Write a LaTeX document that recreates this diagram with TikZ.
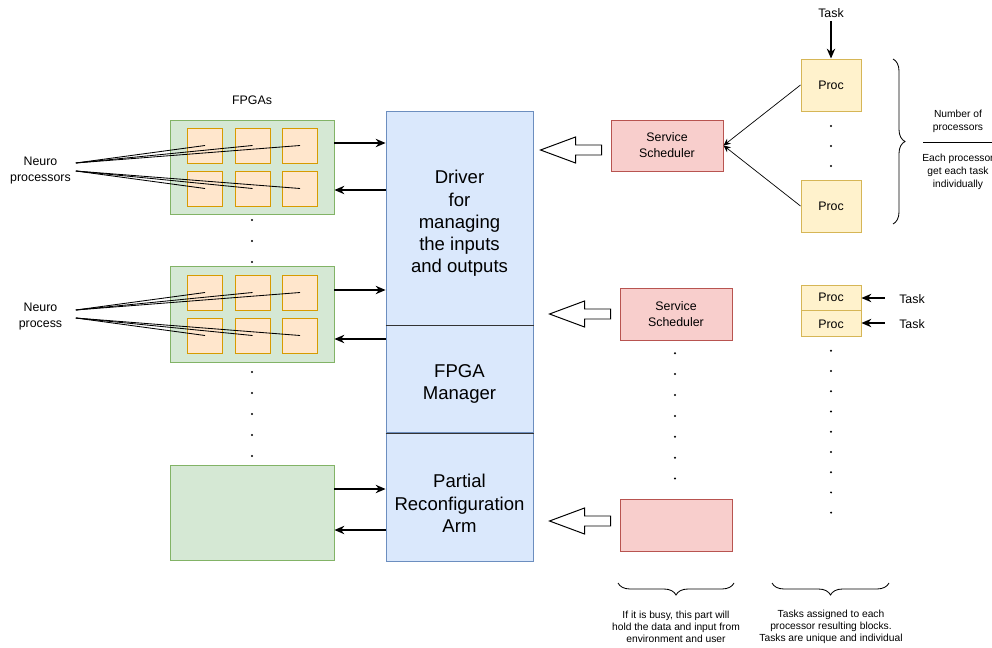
\documentclass[tikz,border=0pt]{standalone}
\usepackage{fontspec}
\setmainfont{Liberation Sans}
\usetikzlibrary{positioning,calc,arrows.meta,decorations.pathreplacing}

\definecolor{fpgafill}{HTML}{D5E8D4}
\definecolor{fpgaline}{HTML}{82B366}
\definecolor{neufill}{HTML}{FFE6CC}
\definecolor{neuline}{HTML}{D79B00}
\definecolor{drvfill}{HTML}{DAE8FC}
\definecolor{drvline}{HTML}{6C8EBF}
\definecolor{schedfill}{HTML}{F8CECC}
\definecolor{schedline}{HTML}{B85450}
\definecolor{procfill}{HTML}{FFF2CC}
\definecolor{procline}{HTML}{D6B656}

\begin{document}
\begin{tikzpicture}[
        font=\fontsize{8.8}{11.4}\selectfont,
        fpga/.style={rectangle, draw=fpgaline, fill=fpgafill, line width=0.7pt, minimum width=4.1cm},
        neuron/.style={rectangle, draw=neuline, fill=neufill, line width=0.7pt, minimum width=0.875cm, minimum height=0.875cm},
        drv/.style={rectangle, draw=drvline, fill=drvfill, line width=0.7pt, minimum width=3.675cm},
        drvtxt/.style={align=center, inner sep=0, font=\fontsize{13.2}{15.8}\selectfont},
        sched/.style={rectangle, draw=schedline, fill=schedfill, line width=0.7pt, minimum width=2.8cm, minimum height=1.3cm, align=center},
        proc/.style={rectangle, draw=procline, fill=procfill, line width=0.7pt, minimum width=1.5cm},
        lbl/.style={align=center, inner sep=0},
        smalltxt/.style={align=center, inner sep=0, font=\fontsize{7.3}{9.3}\selectfont},
        arrow/.style={->, >={Stealth[length=7pt,width=6pt]}, line width=0.8pt},
        thinarrow/.style={->, >={Stealth[length=5pt,width=4.5pt]}, line width=0.5pt},
        fatarrow/.style={draw, fill=white, line width=0.7pt},
        fan/.style={line width=0.6pt},
        divider/.style={draw=black!80, line width=0.7pt},
        curly/.style={decorate, decoration={brace, amplitude=0.3cm}, line width=0.6pt}
    ]
        \fill[white] (0,0) rectangle (24.8,-16.2);
        \useasboundingbox (0,0) rectangle (24.8,-16.2);

        % FPGA boards
        \node[lbl] (fpgas) at (6.3,-2.5) {FPGAs};
        \node[fpga, minimum height=2.35cm] (fpga1) at (6.3,-4.175) {};
        \node[fpga, minimum height=2.4cm] (fpga2) at (6.3,-7.85) {};
        \node[fpga, minimum height=2.375cm] (fpga3) at (6.3,-12.8125) {};

        % Neuro processors on the boards
        \foreach \f in {1,2}
            \foreach \r/\dy in {1/0.5375,2/-0.5375}
                \foreach \c/\dx in {1/-1.175,2/0.0125,3/1.2}
                    \node[neuron] (n\f-\r-\c) at ($(fpga\f)+(\dx,\dy)$) {};

        \node[lbl, minimum width=1.75cm] (np1) at (1.0125,-4.275) {Neuro\\processors};
        \node[lbl, minimum width=1.75cm] (np2) at (1.0125,-7.925) {Neuro\\process};
        \foreach \c in {1,2,3} {
            \draw[fan] ([yshift=0.2cm]np1.east) -- (n1-1-\c.center);
            \draw[fan] (np1.east) -- (n1-2-\c.center);
            \draw[fan] ([yshift=0.175cm]np2.east) -- (n2-1-\c.center);
            \draw[fan] ([yshift=-0.025cm]np2.east) -- (n2-2-\c.center);
        }

        % Driver stack
        \node[drv, minimum height=5.35cm] (drvio) at (11.4875,-5.45) {};
        \node[drv, minimum height=2.675cm, below=0cm of drvio] (fpgam) {};
        \node[drv, minimum height=3.2cm, below=0cm of fpgam] (prarm) {};
        \draw[divider] (drvio.south west) -- (drvio.south east);
        \draw[divider] (fpgam.south west) -- (fpgam.south east);
        \node[drvtxt] (drviotxt) at ([yshift=-0.14cm]drvio.center) {Driver\\for\\managing\\the inputs\\and outputs};
        \node[drvtxt] (fpgamtxt) at ([yshift=-0.1125cm]fpgam.center) {FPGA\\Manager};
        \node[drvtxt] (prarmtxt) at ([yshift=-0.1375cm]prarm.center) {Partial\\Reconfiguration\\Arm};

        % Boards <-> driver
        \draw[arrow] ([yshift=0.6cm]fpga1.east) coordinate (o1) -- (o1 -| drvio.west);
        \draw[arrow, <-] ([yshift=-0.575cm]fpga1.east) coordinate (i1) -- (i1 -| drvio.west);
        \draw[arrow] ([yshift=0.6cm]fpga2.east) coordinate (o2) -- (o2 -| drvio.west);
        \draw[arrow, <-] ([yshift=-0.625cm]fpga2.east) coordinate (i2) -- (i2 -| fpgam.west);
        \draw[arrow] ([yshift=0.5875cm]fpga3.east) coordinate (o3) -- (o3 -| prarm.west);
        \draw[arrow, <-] ([yshift=-0.4375cm]fpga3.east) coordinate (i3) -- (i3 -| prarm.west);

        % Service schedulers
        \node[sched, minimum height=1.275cm] (sched1) at (16.675,-3.6375) {Service\\Scheduler};
        \node[sched] (sched2) at (16.9,-7.85) {Service\\Scheduler};
        \node[sched] (sched3) at (16.9,-13.125) {};
        \foreach \s/\dy in {sched1/0.0125, sched2/0.125, sched3/0.225}
            \draw[fatarrow] ([xshift=-0.225cm, yshift=\dy cm]\s.west) -- ++(-0.65,0) -- ++(0,0.2)
                -- ++(-0.875,-0.325) -- ++(0.875,-0.325) -- ++(0,0.2) -- ++(0.65,0) -- cycle;

        % Processors
        \node[lbl] (task1) at (20.775,-0.325) {Task};
        \node[proc, minimum height=1.3cm] (proc1) at (20.775,-2.125) {Proc};
        \node[proc, minimum height=1.3cm] (proc2) at (20.775,-5.15) {Proc};
        \draw[arrow] ([yshift=-0.075cm]task1.south) -- (proc1);
        \draw[thinarrow] (proc1.west) -- (sched1.east);
        \draw[thinarrow] (proc2.west) -- (sched1.east);

        \node[proc, minimum height=0.625cm] (proc3) at (20.775,-7.4375) {Proc};
        \node[proc, minimum height=0.65cm, below=0cm of proc3] (proc4) {Proc};
        \node[lbl, minimum width=1.35cm] (task3) at (22.8,-7.475) {Task};
        \node[lbl, minimum width=1.35cm] (task4) at (22.8,-8.1) {Task};
        \draw[arrow] ([yshift=0.025cm]task3.west) -- ([yshift=0.025cm]task3.west -| proc3.east);
        \draw[arrow] ([yshift=0.025cm]task4.west) -- ([yshift=0.025cm]task4.west -| proc4.east);

        % Dots
        \foreach \y in {-5.5,-6.025,-6.55,-9.3,-9.825,-10.35,-10.875,-11.4}
            \fill (6.3,\y) circle (0.028);
        \foreach \i in {0,...,6}
            \fill (16.875,{-8.83-0.5225*\i}) circle (0.028);
        \foreach \y in {-3.15,-3.65,-4.15}
            \fill (20.775,\y) circle (0.028);
        \foreach \i in {0,...,8}
            \fill (20.775,{-8.7675-0.506*\i}) circle (0.028);

        % Notes
        \draw[curly] (22.325,-1.475) -- (22.325,-5.6);
        \node[smalltxt] (numproc) at (23.95,-3.025) {Number of\\processors};
        \node[smalltxt] (eachproc) at (23.95,-4.3) {Each processor\\get each task\\individually};
        \draw[line width=0.6pt] (23.075,-3.55) -- (24.85,-3.55);

        \draw[curly] (18.35,-14.575) -- (15.45,-14.575);
        \draw[curly] (22.225,-14.575) -- (19.3,-14.575);
        \node[smalltxt, font=\fontsize{7.3}{8.6}\selectfont] (busy) at (16.9,-15.675) {If it is busy, this part will\\hold the data and input from\\environment and user};
        \node[smalltxt, font=\fontsize{7.3}{8.6}\selectfont] (tasknote) at (20.775,-15.675) {Tasks assigned to each\\processor resulting blocks.\\Tasks are unique and individual};

    \end{tikzpicture}
\end{document}
